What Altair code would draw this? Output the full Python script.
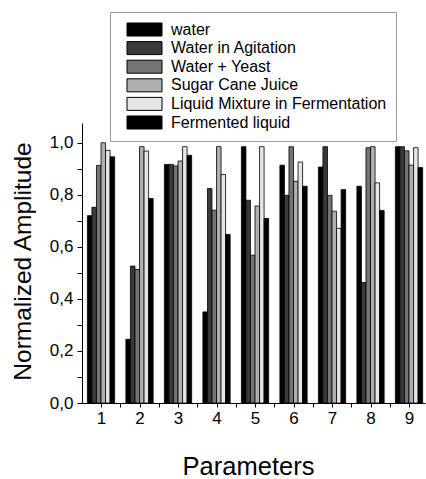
import altair as alt
import pandas as pd

params = [1, 2, 3, 4, 5, 6, 7, 8, 9]
series_names = [
    "water",
    "Water in Agitation",
    "Water + Yeast",
    "Sugar Cane Juice",
    "Liquid Mixture in Fermentation",
    "Fermented liquid",
]
water = [0.720, 0.245, 0.917, 0.350, 0.985, 0.914, 0.907, 0.833, 0.985]
agitation = [0.752, 0.526, 0.917, 0.824, 0.779, 0.798, 0.985, 0.463, 0.985]
yeast = [0.913, 0.513, 0.911, 0.741, 0.568, 0.985, 0.798, 0.981, 0.969]
sugar = [1.000, 0.985, 0.930, 0.985, 0.757, 0.852, 0.737, 0.985, 0.914]
liquid = [0.971, 0.968, 0.985, 0.878, 0.985, 0.926, 0.671, 0.846, 0.981]
fermented = [0.946, 0.786, 0.952, 0.648, 0.709, 0.833, 0.820, 0.740, 0.905]
series_values = [water, agitation, yeast, sugar, liquid, fermented]
fills = ["#000000", "#3a3a3a", "#747474", "#b0b0b0", "#e6e6e6", "#000000"]

rows = []
for si, (name, vals) in enumerate(zip(series_names, series_values)):
    for p, v in zip(params, vals):
        rows.append({"param": p, "series": name, "idx": si, "value": v})
df = pd.DataFrame(rows)

FONT = "Liberation Sans"
BW = 0.118

x_ticks = [1, 1.5, 2, 2.5, 3, 3.5, 4, 4.5, 5, 5.5, 6, 6.5, 7, 7.5, 8, 8.5, 9]
y_ticks = [0, 0.1, 0.2, 0.3, 0.4, 0.5, 0.6, 0.7, 0.8, 0.9, 1.0]

# wide rectangle symbol (offset to the right inside the entry)
SYMBOL = "M-0.077,-1L5.308,-1L5.308,1L-0.077,1Z"

chart = (
    alt.Chart(df)
    .transform_calculate(
        x0=f"datum.param - 3*{BW} + datum.idx*{BW}",
        x1=f"datum.param - 3*{BW} + (datum.idx+1)*{BW}",
    )
    .mark_bar(stroke="black", strokeWidth=0.8, opacity=1)
    .encode(
        x=alt.X(
            "x0:Q",
            scale=alt.Scale(domain=[0.506, 9.415], nice=False, zero=False),
            axis=alt.Axis(
                values=x_ticks,
                labelExpr="datum.value % 1 == 0 ? datum.value : ''",
                title="Parameters",
                titleFont=FONT,
                titleFontSize=25.5,
                titleFontWeight="normal",
                titleColor="black",
                titleX=166,
                titleY=76,
                titleBaseline="bottom",
                labelFont=FONT,
                labelFontSize=17,
                labelColor="black",
                labelPadding=3,
                tickSize=4,
                tickColor="black",
                domainColor="black",
                grid=False,
                labelOverlap=False,
            ),
        ),
        x2="x1:Q",
        y=alt.Y(
            "value:Q",
            scale=alt.Scale(domain=[0, 1.076], nice=False),
            axis=alt.Axis(
                values=y_ticks,
                labelExpr="round(datum.value*10) % 2 == 0 ? replace(format(datum.value, '.1f'), '.', ',') : ''",
                title="Normalized Amplitude",
                titleFont=FONT,
                titleFontSize=24.5,
                titleFontWeight="normal",
                titleColor="black",
                titleX=-59,
                titleY=138,
                titleBaseline="middle",
                labelFont=FONT,
                labelFontSize=17,
                labelColor="black",
                labelPadding=4,
                tickSize=5,
                tickColor="black",
                domainColor="black",
                grid=False,
                labelOverlap=False,
            ),
        ),
        y2=alt.datum(0),
        color=alt.Color(
            "series:N",
            scale=alt.Scale(domain=series_names, range=fills),
            legend=alt.Legend(
                orient="none",
                legendX=28,
                legendY=-111,
                title=None,
                symbolType=SYMBOL,
                symbolSize=169,
                symbolStrokeColor="black",
                symbolStrokeWidth=1,
                symbolOpacity=1,
                labelFont=FONT,
                labelFontSize=16,
                labelColor="black",
                labelOffset=35.5,
                labelLimit=400,
                labelExpr="datum.label + '\u00a0\u00a0\u00a0\u00a0'",
                padding=9.5,
                rowPadding=0.6,
                strokeColor="#999999",
                fillColor="white",
            ),
        ),
    )
    .properties(
        width=343,
        height=280,
        autosize=alt.AutoSizeParams(type="none"),
        padding={"left": 82, "top": 123, "right": 1, "bottom": 76},
    )
    .configure_view(stroke=None)
)

chart.save("out.html", embed_options={"renderer": "svg", "actions": False})
